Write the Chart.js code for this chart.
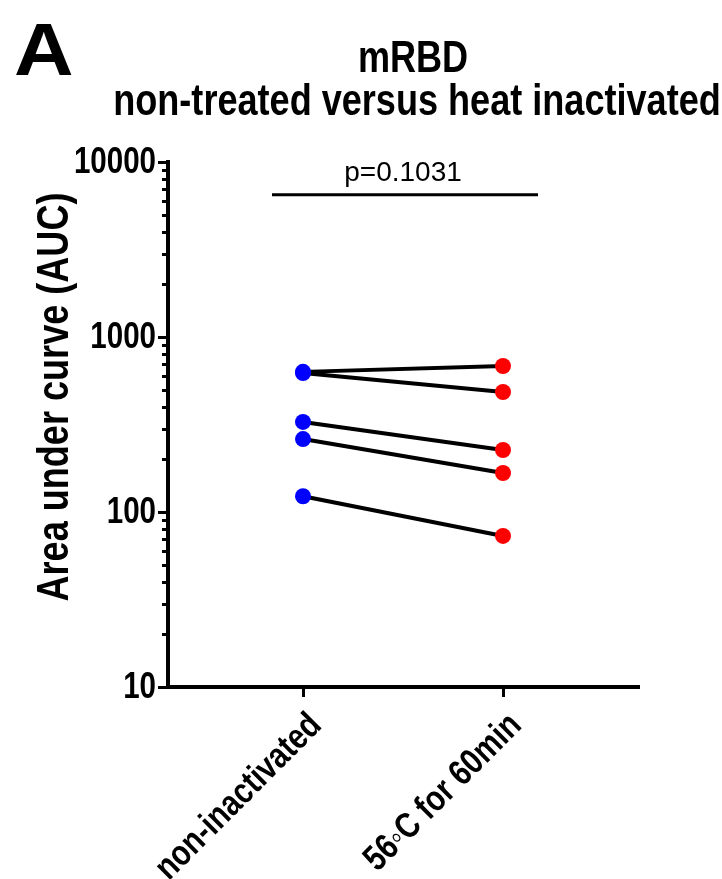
<!DOCTYPE html>
<html>
<head>
<meta charset="utf-8">
<script src="https://cdn.jsdelivr.net/npm/chart.js@4/dist/chart.umd.min.js"></script>
<style>
    html, body { margin: 0; padding: 0; background: #fff; }
    .chart-container { position: relative; width: 722px; height: 879px; }
</style>
</head>
<body>
<div class="chart-container"><canvas id="chart"></canvas></div>
<script>

// paired AUC values, one entry per sample
const groups = [ 'non-inactivated', '56\u25E6C for 60min' ];
const nonInactivated = [ 632, 622, 327, 261, 123 ];
const heatInactivated = [ 683, 485, 226, 167, 73 ];
const yTicks = [ 10, 100, 1000, 10000 ];
const pValue = 'p=0.1031';
const pBracket = [ -0.155, 1.175 ];
const pBracketLevel = 6500;

const SANS = '"Liberation Sans", Arial, sans-serif';
const NARROW = 0.82; // horizontal squeeze for the condensed bold lettering

// free text: panel letter, title, y title, p value
const texts = [
    { text: 'A', x: 14, y: 75, font: 'bold 75px ' + SANS, align: 'left', sx: 1.1 },
    { text: 'mRBD', x: 413, y: 72, font: 'bold 44px ' + SANS, sx: NARROW },
    { text: 'non-treated versus heat inactivated', x: 417, y: 115, font: 'bold 44px ' + SANS, sx: NARROW },
    { text: 'Area under curve (AUC)', x: 68, y: 397, font: 'bold 44px ' + SANS, rotate: -90, sx: NARROW },
    { text: pValue, x: 403, y: 181, font: '28px ' + SANS }
];

function drawText ( ctx, t ) {
    ctx.save();
    ctx.translate( t.x, t.y );
    ctx.rotate( ( t.rotate || 0 ) * Math.PI / 180 );
    ctx.scale( t.sx || 1, 1 );
    ctx.font = t.font;
    ctx.fillStyle = '#000';
    ctx.textAlign = t.align || 'center';
    ctx.textBaseline = t.baseline || 'alphabetic';
    ctx.fillText( t.text, 0, 0 );
    ctx.restore();
}

const textPlugin = {
    id: 'texts',
    afterDraw ( chart ) {
        texts.forEach( t => drawText( chart.ctx, t ) );
    }
};

// condensed tick labels, placed through the chart's own scales
const tickLabels = {
    id: 'tickLabels',
    afterDraw ( chart ) {
        const { x, y } = chart.scales;
        const ctx = chart.ctx;
        const font = 'bold 36px ' + SANS;
        yTicks.forEach( v => drawText( ctx, {
            text: String( v ), x: y.right - 12, y: y.getPixelForValue( v ) + 1,
            font, align: 'right', baseline: 'middle', sx: NARROW
        } ) );
        groups.forEach( ( g, i ) => drawText( ctx, {
            text: g, x: x.getPixelForValue( i ) + 13, y: x.top + 33,
            font, align: 'right', baseline: 'middle', rotate: -45, sx: NARROW
        } ) );
    }
};

// short unlabelled ticks between the decades
const minorTicks = {
    id: 'minorTicks',
    afterDraw ( chart ) {
        const y = chart.scales.y;
        const ctx = chart.ctx;
        ctx.save();
        ctx.strokeStyle = '#000';
        ctx.lineWidth = 3;
        for ( let d = yTicks[ 0 ]; d < yTicks[ yTicks.length - 1 ]; d *= 10 ) {
            for ( let k = 2; k <= 9; k++ ) {
                const py = Math.round( y.getPixelForValue( d * k ) ) + 0.5;
                ctx.beginPath();
                ctx.moveTo( y.right - 6, py );
                ctx.lineTo( y.right, py );
                ctx.stroke();
            }
        }
        ctx.restore();
    }
};

const lines = nonInactivated.map( ( v, i ) => ( {
    type: 'line',
    data: [ { x: 0, y: v }, { x: 1, y: heatInactivated[ i ] } ],
    borderColor: '#000',
    borderWidth: 4,
    pointRadius: 0,
    order: 2
} ) );

new Chart( document.getElementById( 'chart' ), {
    type: 'scatter',
    data: {
        datasets: [ {
            data: nonInactivated.map( v => ( { x: 0, y: v } ) ),
            backgroundColor: '#0000ff',
            borderWidth: 0,
            pointRadius: 8,
            order: 1
        }, {
            data: heatInactivated.map( v => ( { x: 1, y: v } ) ),
            backgroundColor: '#ff0000',
            borderWidth: 0,
            pointRadius: 8,
            order: 1
        }, {
            type: 'line',
            data: pBracket.map( x => ( { x, y: pBracketLevel } ) ),
            borderColor: '#000',
            borderWidth: 3,
            pointRadius: 0,
            order: 3
        }, ...lines ]
    },
    options: {
        responsive: true,
        maintainAspectRatio: false,
        animation: false,
        events: [],
        layout: { padding: { top: 162, right: 83, left: 0, bottom: 0 } },
        plugins: { legend: { display: false }, tooltip: { enabled: false } },
        scales: {
            x: {
                type: 'linear',
                min: -0.675,
                max: 1.68,
                afterBuildTicks: s => { s.ticks = groups.map( ( g, i ) => ( { value: i } ) ); },
                afterFit: s => { s.height = 192; },
                ticks: { display: false },
                grid: { drawOnChartArea: false, tickLength: 10, tickWidth: 3, tickColor: '#000' },
                border: { color: '#000', width: 4 }
            },
            y: {
                type: 'logarithmic',
                min: 10,
                max: 10000,
                afterBuildTicks: s => { s.ticks = yTicks.map( v => ( { value: v } ) ); },
                afterFit: s => { s.width = 168; },
                ticks: { display: false },
                grid: { drawOnChartArea: false, tickLength: 10, tickWidth: 3, tickColor: '#000' },
                border: { color: '#000', width: 4 }
            }
        }
    },
    plugins: [ textPlugin, tickLabels, minorTicks ]
} );

</script>
</body>
</html>
